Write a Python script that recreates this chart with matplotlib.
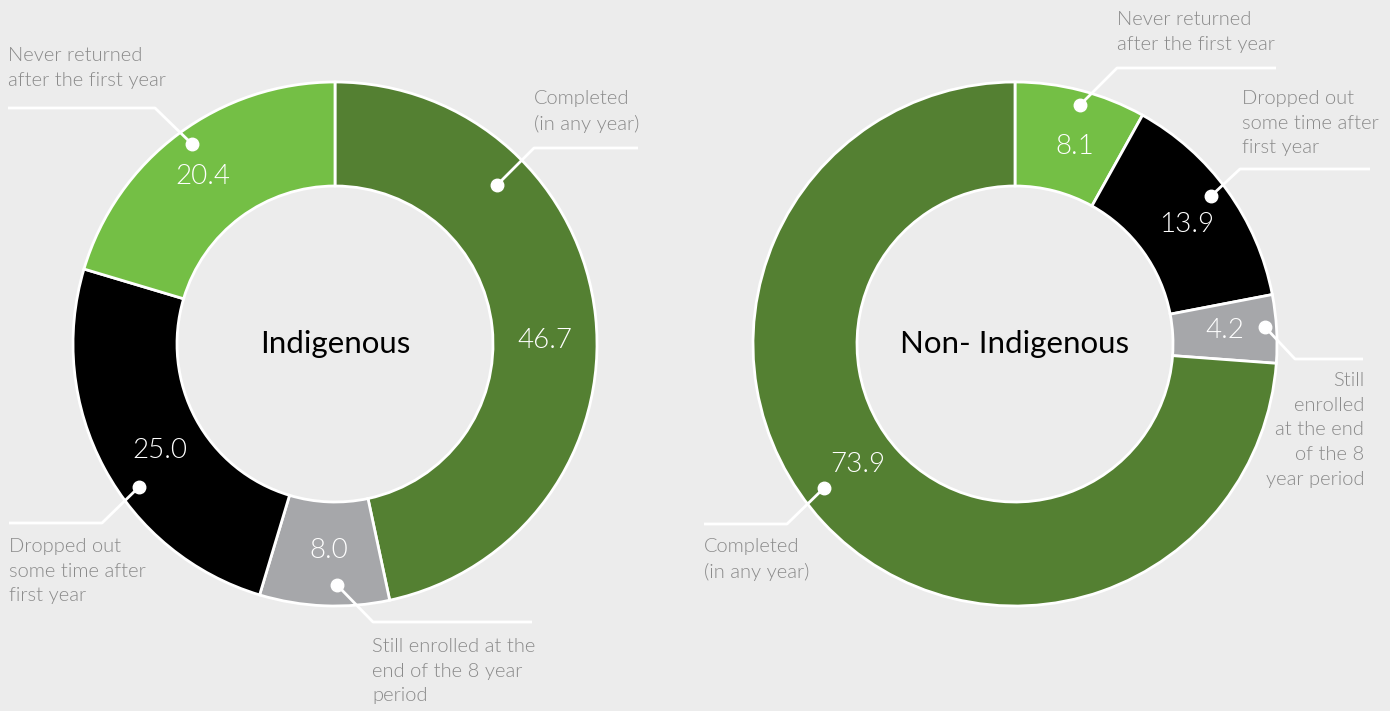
import numpy as np
import matplotlib.pyplot as plt

# data
categories = ['Completed', 'Still enrolled', 'Dropped out', 'Never returned']
indigenous = [46.7, 8.0, 25.0, 20.4]
non_categories = ['Never returned', 'Dropped out', 'Still enrolled', 'Completed']
non_indigenous = [8.1, 13.9, 4.2, 73.9]
value_labels_ind = ['46.7', '8.0', '25.0', '20.4']
value_labels_non = ['8.1', '13.9', '4.2', '73.9']

label_text = {
    'Completed': 'Completed\n(in any year)',
    'Still enrolled': 'Still enrolled at the\nend of the 8 year\nperiod',
    'Dropped out': 'Dropped out\nsome time after\nfirst year',
    'Never returned': 'Never returned\nafter the first year',
}
label_text_non = dict(label_text)
label_text_non['Still enrolled'] = 'Still\nenrolled\nat the end\nof the 8\nyear period'

colors = {
    'Completed': '#548032',
    'Still enrolled': '#a6a7aa',
    'Dropped out': '#000000',
    'Never returned': '#74bf45',
}

BG = '#ececec'
TXT = '#8a8a8a'
W, H = 1390, 711

plt.rcParams['font.family'] = ['Lato', 'DejaVu Sans']

fig = plt.figure(figsize=(W / 100, H / 100), dpi=100, facecolor=BG)
ax = fig.add_axes([0, 0, 1, 1])
ax.set_facecolor(BG)


def donut(center, values, cats, title):
    ax.pie(values, colors=[colors[c] for c in cats], center=center, radius=262,
           startangle=-90, counterclock=True,
           wedgeprops=dict(width=104, edgecolor='white', linewidth=2))
    ax.text(center[0], center[1], title, ha='center', va='center',
            fontsize=22.5, color='black')


def callout(dot, elbow, end, text, tx, ty, ha='left'):
    ax.plot([dot[0], elbow[0], end], [dot[1], elbow[1], elbow[1]],
            color='white', lw=2, solid_capstyle='butt', zorder=5)
    ax.plot(dot[0], dot[1], 'o', color='white', ms=9, zorder=6)
    ax.text(tx, ty, text, ha=ha, va='top', fontsize=14.5, color=TXT,
            linespacing=1.55, fontweight=300)


def value(x, y, s):
    ax.text(x, y, s, ha='center', va='center', fontsize=20, color='white',
            fontweight=300, zorder=7)


# left: Indigenous
donut((335, 344), indigenous, categories, 'Indigenous')
for (x, y), s in zip([(545, 341), (329, 550), (160, 450), (203, 176)],
                     value_labels_ind):
    value(x, y, s)
callout((497, 185), (534, 148), 638, label_text['Completed'], 534, 90)
callout((337, 585), (373, 622), 532, label_text['Still enrolled'], 372, 638)
callout((139, 487), (102, 523), 9, label_text['Dropped out'], 9, 538)
callout((192, 144), (155, 108), 8, label_text['Never returned'], 8, 47)

# right: Non-Indigenous
donut((1015, 344), non_indigenous, non_categories, 'Non- Indigenous')
for (x, y), s in zip([(1075, 147), (1187, 224), (1225, 330), (858, 464)],
                     value_labels_non):
    value(x, y, s)
callout((1080, 105), (1117, 68), 1276, label_text_non['Never returned'], 1117, 11)
callout((1211, 196), (1240, 169), 1370, label_text_non['Dropped out'], 1242, 90)
callout((1265, 327), (1295, 359), 1363, label_text_non['Still enrolled'], 1364, 372,
        ha='right')
callout((824, 488), (787, 524), 704, label_text_non['Completed'], 704, 538)

ax.set_xlim(0, W)
ax.set_ylim(H, 0)
ax.set_aspect('equal')
ax.axis('off')

fig.savefig('out.png', dpi=100, facecolor=BG)
